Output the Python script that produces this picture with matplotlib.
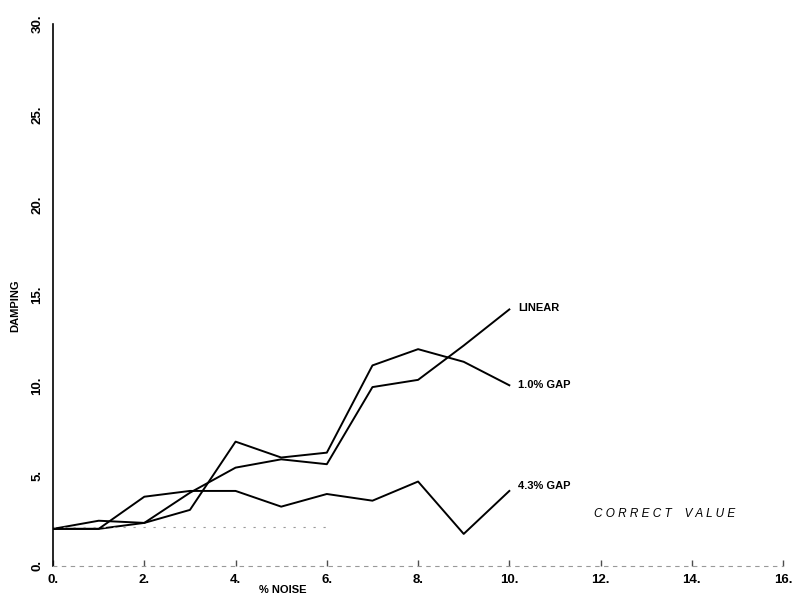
import matplotlib.pyplot as plt

# datos
noise = [0, 1, 2, 3, 4, 5, 6, 7, 8, 9, 10]
linear = [2.05, 2.5, 2.38, 4.05, 5.44, 5.9, 5.63, 9.9, 10.3, 12.2, 14.2]
gap_10 = [2.05, 2.05, 2.38, 3.1, 6.88, 6.0, 6.27, 11.1, 12.0, 11.3, 10.0]
gap_43 = [2.05, 2.05, 3.83, 4.15, 4.15, 3.28, 3.98, 3.61, 4.67, 1.77, 4.15]
correct_value = 2.15
correct_x = [0, 6]

xticks = [0, 2, 4, 6, 8, 10, 12, 14, 16]
yticks = [0, 5, 10, 15, 20, 25, 30]

plt.rcParams['font.family'] = ['Liberation Sans', 'DejaVu Sans']

fig = plt.figure(figsize=(8.04, 6.02), dpi=100)
ax = fig.add_axes([0.066, 0.06, 0.908, 0.9])

ax.plot(noise, linear, color="black", lw=1.4)
ax.plot(noise, gap_10, color="black", lw=1.4)
ax.plot(noise, gap_43, color="black", lw=1.4)
ax.plot(correct_x, [correct_value, correct_value], color="0.6", lw=0.8,
        linestyle=(0, (2, 7)))

# etiquetas de las curvas
ax.text(10.2, linear[-1] + 0.1, "LINEAR", fontsize=8, fontweight="bold", va="center")
ax.text(10.2, gap_10[-1], "1.0% GAP", fontsize=8, fontweight="bold", va="center")
ax.text(10.2, gap_43[-1] + 0.3, "4.3% GAP", fontsize=8, fontweight="bold", va="center")
ax.text(11.85, 2.85, "C O R R E C T    V A L U E", fontsize=8.5, fontstyle="italic",
        va="center", color="black")

ax.set_xlim(0, 16)
ax.set_ylim(0, 30)
ax.set_xticks(xticks)
ax.set_xticklabels([f"{t}." for t in xticks], fontsize=9.5, fontweight="bold")
ax.set_yticks(yticks)
ax.set_yticklabels([f"{t}." for t in yticks], fontsize=9.5, fontweight="bold",
                   rotation=90, va="center")

ax.spines["top"].set_visible(False)
ax.spines["right"].set_visible(False)
ax.spines["left"].set_linewidth(1.2)
ax.spines["bottom"].set_linestyle((0, (3, 5)))
ax.spines["bottom"].set_color("0.6")
ax.spines["bottom"].set_linewidth(0.8)
ax.tick_params(axis="x", direction="in", length=4, width=1, color="0.3", pad=6)
ax.tick_params(axis="y", length=0, pad=7)

ax.set_xlabel("% NOISE", fontsize=8, fontweight="bold", labelpad=0)
ax.xaxis.set_label_coords(0.315, -0.035)
ax.set_ylabel("DAMPING", fontsize=8, fontweight="bold")
ax.yaxis.set_label_coords(-0.045, 0.48)

plt.savefig("out.png")
